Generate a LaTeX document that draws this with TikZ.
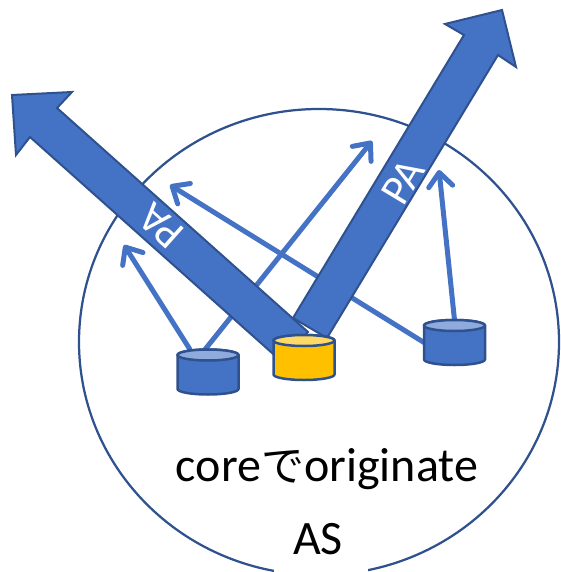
\documentclass[tikz,border=0pt]{standalone}
\usepackage{fontspec}
\setmainfont{Carlito}
\newfontfamily\cjk{Noto Sans CJK JP}
\usetikzlibrary{shapes.geometric,arrows.meta,backgrounds}
\definecolor{bluefill}{HTML}{4472C4}
\definecolor{blueline}{HTML}{2F528F}
\definecolor{bluetop}{HTML}{8FAADC}
\definecolor{goldfill}{HTML}{FFC000}
\definecolor{goldtop}{HTML}{FFD966}
\tikzset{
  asring/.style={ellipse,draw=blueline,line width=2.25pt,minimum width=480pt,minimum height=466pt,inner sep=0pt},
  drumbox/.style={rectangle,minimum width=61pt,minimum height=45pt,inner sep=0pt,outer sep=0pt},
  drumline/.style={draw=blueline,line width=2.5pt,line join=round},
  thinarrow/.style={draw=bluefill,line width=5pt,line cap=round,-{Straight Barb[length=14pt,width=24pt,line width=5pt,round]}},
  bigarrow/.style={fill=bluefill,draw=blueline,line width=2pt,line join=miter},
  palabel/.style={text=white,font=\fontsize{43}{43}\selectfont,inner sep=0pt},
  caption/.style={text=black,font=\fontsize{48}{48}\selectfont,inner sep=0pt}
}
% #1 node name, #2 body colour, #3 top colour
\newcommand{\drumdraw}[3]{%
  \path[drumline,fill=#2] ([yshift=-5.5pt]#1.north west) -- ([yshift=5.5pt]#1.south west)
    arc[start angle=180,end angle=360,x radius=30.5pt,y radius=5.5pt]
    -- ([yshift=-5.5pt]#1.north east)
    arc[start angle=0,end angle=180,x radius=30.5pt,y radius=5.5pt] -- cycle;
  \path[drumline,fill=#3] ([yshift=-5.5pt]#1.north) ellipse[x radius=30.5pt,y radius=5.5pt];
}
\begin{document}
\begin{tikzpicture}[x=1pt,y=-1pt]
\useasboundingbox (0,0) rectangle (560,572);
\node[drumbox] (c1) at (208,372) {};
\node[drumbox] (c2) at (304,357.5) {};
\node[drumbox] (c3) at (454.5,342.5) {};
\coordinate (tipa) at (124,245);
\coordinate (tipb) at (372,141);
\coordinate (tipc) at (170,185);
\coordinate (tipd) at (439,170);
\begin{pgfonlayer}{background}
\node[asring] (ring) at (319,342) {};
\node[fill=white,minimum width=94pt,minimum height=50pt,inner sep=0pt] (gap) at (321,548) {};
\draw[thinarrow] ([xshift=-18pt]c1.north) -- (tipa);
\draw[thinarrow] ([xshift=-3pt]c1.north) -- (tipb);
\draw[thinarrow] (c3.west) -- (tipc);
\draw[thinarrow] (c3.north) -- (tipd);
\draw[bigarrow] (308,332) -- (57,108) -- (72,92) -- (12,95) -- (16,155) -- (30,137) -- (281,361) -- cycle;
\draw[bigarrow] (293,318) -- (464,35) -- (445,24) -- (502,10) -- (516,67) -- (498,55) -- (327,338) -- cycle;
\end{pgfonlayer}
\drumdraw{c1}{bluefill}{bluetop}
\drumdraw{c2}{goldfill}{goldtop}
\drumdraw{c3}{bluefill}{bluetop}
\node[caption] (line1) at (327,469) {core{\cjk\fontsize{43}{43}\selectfont で}originate};
\node[caption] (line2) at (318,539) {AS};
\node[palabel,rotate=138.3] (pa1) at (161,226) {PA};
\node[palabel,rotate=58.9] (pa2) at (403,182) {PA};
\end{tikzpicture}
\end{document}
